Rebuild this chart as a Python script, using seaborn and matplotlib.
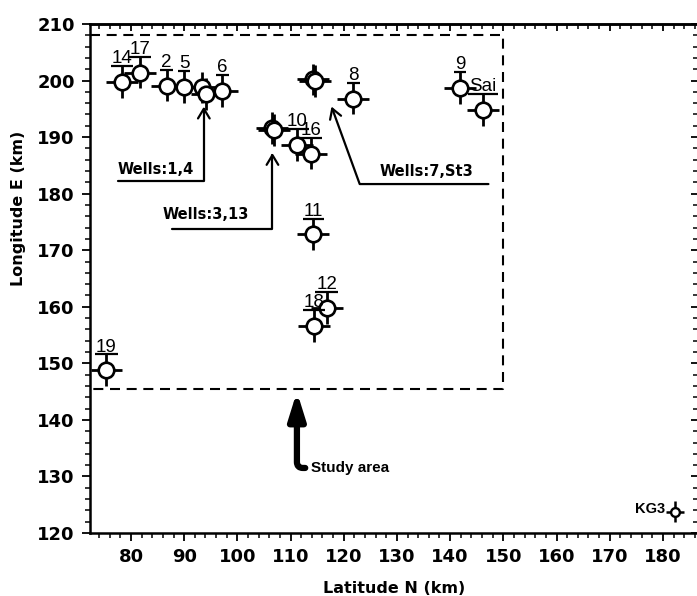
import matplotlib
matplotlib.use("Agg")
import matplotlib.pyplot as plt
from matplotlib.ticker import MultipleLocator, NullFormatter
import pandas as pd
import seaborn as sns

# ---- well locations (km) ----
well_names = ["14", "17", "2", "5", "1", "4", "6", "3", "13", "10", "16",
              "7", "St3", "8", "9", "Sai", "11", "12", "18", "19"]
lat_n = [78.3, 81.7, 86.7, 90.0, 93.3, 94.2, 97.2, 106.5, 106.9, 111.3, 113.8,
         114.3, 114.6, 121.8, 141.9, 146.2, 114.3, 116.8, 114.4, 75.4]
lon_e = [199.8, 201.4, 199.1, 198.9, 198.8, 197.6, 198.2, 191.6, 191.2, 188.6, 187.1,
         200.2, 199.9, 196.8, 198.7, 194.8, 172.8, 159.8, 156.6, 148.8]
# wells named directly above their symbol
labelled_wells = ["14", "17", "2", "5", "6", "10", "16", "8", "9", "Sai",
                  "11", "12", "18", "19"]
lat_err = 3.0
lon_err = 2.8

# reference station
ref_name = "KG3"
ref_lat = [182.3]
ref_lon = [123.8]
ref_lat_err = 1.7
ref_lon_err = 1.8

# study area outline
study_lat_max = 150.0
study_lon_min = 145.5
study_lon_max = 208.1

x_ticks = [80, 90, 100, 110, 120, 130, 140, 150, 160, 170, 180]
y_ticks = [120, 130, 140, 150, 160, 170, 180, 190, 200, 210]
x_lim = (72.3, 186.6)
y_lim = (120, 210)

df = pd.DataFrame({"well": well_names, "lat": lat_n, "lon": lon_e})

sns.set_theme(style="ticks")
plt.rcParams["font.family"] = ["DejaVu Sans"]
plt.rcParams.update({"text.color": "black", "axes.labelcolor": "black",
                     "xtick.color": "black", "ytick.color": "black",
                     "axes.edgecolor": "black"})

W, H = 697, 596
fig = plt.figure(figsize=(W / 100, H / 100), dpi=100)
ax = fig.add_axes([90 / W, (H - 533) / H, 608 / W, 509 / H])

# crosshair bars and open circles
ax.errorbar(df["lat"], df["lon"], xerr=lat_err, yerr=lon_err, fmt="none",
            ecolor="black", elinewidth=2.0, capsize=0, zorder=2)
sns.scatterplot(data=df, x="lat", y="lon", ax=ax, s=125, color="white",
                edgecolor="black", linewidth=1.9, zorder=3, legend=False)

ax.errorbar(ref_lat, ref_lon, xerr=ref_lat_err, yerr=ref_lon_err, fmt="none",
            ecolor="black", elinewidth=1.8, capsize=0, zorder=2)
sns.scatterplot(x=ref_lat, y=ref_lon, ax=ax, s=40, color="white",
                edgecolor="black", linewidth=1.7, zorder=3, legend=False)
ax.annotate(ref_name, xy=(ref_lat[0] - ref_lat_err, ref_lon[0]), xytext=(-1, 1.5),
            textcoords="offset points", ha="right", va="center",
            fontsize=10.5, fontweight="bold", family="Liberation Sans")

# study area box
ax.plot([x_lim[0], study_lat_max, study_lat_max, x_lim[0]],
        [study_lon_max, study_lon_max, study_lon_min, study_lon_min],
        color="black", lw=1.5, dashes=(4.8, 3.2), zorder=1)

# well names, underlined at the top of each bar
label_texts = []
for name in labelled_wells:
    row = df[df["well"] == name].iloc[0]
    ytop = row["lon"] + lon_err
    t = ax.annotate(name, xy=(row["lat"], ytop), xytext=(0, 2.0),
                    textcoords="offset points", ha="center", va="baseline",
                    fontsize=13.5, family="Liberation Sans", zorder=4)
    label_texts.append((t, row["lat"], ytop))

# grouped well callouts
arrow_thin = dict(arrowstyle="->,head_length=0.5,head_width=0.3",
                  mutation_scale=14, lw=1.6, color="black", shrinkA=0, shrinkB=0)

ax.text(77.4, 184.2, "Wells:1,4", fontsize=10.5, fontweight="bold",
        ha="left", va="center")
ax.annotate("", xy=(93.7, 195.4), xytext=(77.6, 182.3),
            arrowprops=dict(arrow_thin,
                            connectionstyle="angle,angleA=0,angleB=90,rad=0"))

ax.text(86.0, 176.3, "Wells:3,13", fontsize=10.5, fontweight="bold",
        ha="left", va="center")
ax.annotate("", xy=(106.6, 187.2), xytext=(87.7, 173.8),
            arrowprops=dict(arrow_thin,
                            connectionstyle="angle,angleA=0,angleB=90,rad=0"))

ax.text(126.8, 183.9, "Wells:7,St3", fontsize=10.5, fontweight="bold",
        ha="left", va="center")
ax.annotate("", xy=(117.7, 195.4), xytext=(147.2, 181.7),
            arrowprops=dict(arrow_thin,
                            connectionstyle="angle,angleA=180,angleB=110,rad=0"))

# study area pointer
ax.annotate("Study area", xy=(111.2, 145.0), xytext=(113.9, 131.5),
            ha="left", va="center", fontsize=11, fontweight="bold",
            family="Liberation Sans",
            arrowprops=dict(arrowstyle="-|>,head_length=0.8,head_width=0.25",
                            mutation_scale=20, lw=4.5, color="black",
                            relpos=(0, 0.5), shrinkA=2, shrinkB=0,
                            connectionstyle="angle,angleA=180,angleB=90,rad=6"))

# axes, ticks and labels
ax.set_xlim(*x_lim)
ax.set_ylim(*y_lim)
ax.set_xticks(x_ticks)
ax.set_yticks(y_ticks)
ax.xaxis.set_minor_locator(MultipleLocator(2))
ax.yaxis.set_minor_locator(MultipleLocator(2))
ax.tick_params(which="major", direction="out", length=6, width=1.3,
               labelsize=13, pad=5, color="black", labelcolor="black")
ax.tick_params(which="minor", direction="out", length=3.5, width=1.1, color="black")
for lab in ax.get_xticklabels() + ax.get_yticklabels():
    lab.set_fontweight("bold")
for side in ["left", "bottom", "top", "right"]:
    ax.spines[side].set_linewidth(1.8)
    ax.spines[side].set_color("black")

top = ax.secondary_xaxis("top")
top.set_xticks(x_ticks)
top.xaxis.set_minor_locator(MultipleLocator(2))
top.tick_params(which="major", direction="in", length=5, width=1.3, labeltop=False)
top.tick_params(which="minor", direction="in", length=3.5, width=1.1)
top.xaxis.set_major_formatter(NullFormatter())
top.spines["top"].set_linewidth(1.8)

right = ax.secondary_yaxis("right")
right.set_yticks(y_ticks)
right.yaxis.set_minor_locator(MultipleLocator(2))
right.tick_params(which="major", direction="in", length=5, width=1.3, labelright=False)
right.tick_params(which="minor", direction="in", length=3.5, width=1.1)
right.yaxis.set_major_formatter(NullFormatter())

ax.set_xlabel("Latitude N (km)", fontsize=11.5, fontweight="bold", color="black")
ax.set_ylabel("Longitude E (km)", fontsize=11.5, fontweight="bold", color="black")
ax.xaxis.set_label_coords(0.5, -0.094)
ax.yaxis.label.set_verticalalignment("center")
ax.yaxis.set_label_coords(-0.117, 0.637)
ax.grid(False)

# underline each well name
fig.canvas.draw()
renderer = fig.canvas.get_renderer()
inv = ax.transData.inverted()
for t, x, ytop in label_texts:
    bb = t.get_window_extent(renderer)
    x0 = inv.transform((bb.x0 - 1, 0))[0]
    x1 = inv.transform((bb.x1 + 1, 0))[0]
    ax.plot([x0, x1], [ytop, ytop], color="black", lw=1.6,
            solid_capstyle="butt", zorder=4)

fig.savefig("out.png", dpi=100)
